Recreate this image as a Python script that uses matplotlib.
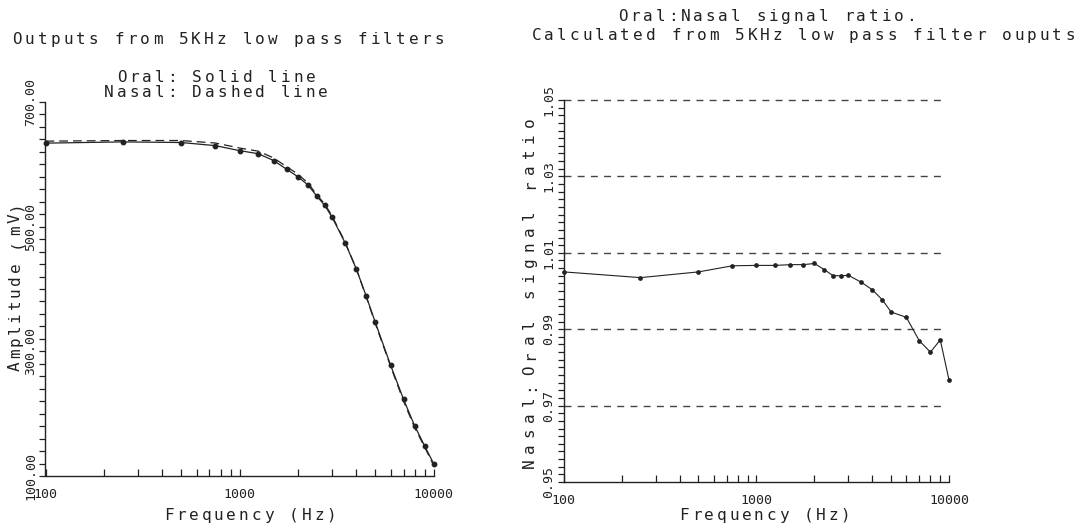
import numpy as np
import matplotlib
matplotlib.use("Agg")
import matplotlib.pyplot as plt
from matplotlib.ticker import LogLocator, MultipleLocator, NullFormatter

W, H = 1089, 526
FONT = "DejaVu Sans Mono"
INK = "#222222"
plt.rcParams["font.family"] = [FONT, "DejaVu Sans"]

# Filter test frequencies (Hz)
freq_hz = [100, 250, 500, 750, 1000, 1250, 1500, 1750, 2000, 2250, 2500,
           2750, 3000, 3500, 4000, 4500, 5000, 6000, 7000, 8000, 9000, 10000]

# Low pass filter outputs (mV)
oral_mv = [634, 636, 635, 630, 622, 617, 606, 592, 580, 567, 549,
           534, 515, 474, 432, 388, 347, 278, 223, 180, 148, 120]
nasal_mv = [637.2, 638.2, 638.2, 634.2, 626.2, 621.1, 610.2, 596.1, 584.2, 570.2, 551.2,
            536.1, 517.1, 475.1, 432.1, 387.1, 345.1, 276.1, 220.1, 177.1, 146.1, 117.2]

# Nasal:oral signal ratio
nasal_oral_ratio = [1.0050, 1.0035, 1.0050, 1.0066, 1.0067, 1.0067, 1.0069, 1.0069,
                    1.0072, 1.0056, 1.0040, 1.0040, 1.0041, 1.0023, 1.0003, 0.9977,
                    0.9945, 0.9931, 0.9870, 0.9840, 0.9872, 0.9766]

freq_ticks = [100, 1000, 10000]
freq_tick_labels = ["100", "1000", "10000"]
amp_ticks = [100, 300, 500, 700]
amp_tick_labels = ["100.00", "300.00", "500.00", "700.00"]
ratio_ticks = [0.95, 0.97, 0.99, 1.01, 1.03, 1.05]
ratio_tick_labels = ["0.95", "0.97", "0.99", "1.01", "1.03", "1.05"]
ratio_grid = [0.97, 0.99, 1.01, 1.03, 1.05]

fig = plt.figure(figsize=(W / 100, H / 100), dpi=100)
fig.patch.set_facecolor("white")


def px_axes(x0, x1, y_top, y_bot):
    """Axes placed by pixel edges (origin at top-left of the figure)."""
    return fig.add_axes([x0 / W, 1 - y_bot / H, (x1 - x0) / W, (y_bot - y_top) / H])


def pitched_text(s, x, y, pitch, size=11.5, vertical=False):
    """Plotter-style lettering: characters laid out on a fixed pitch.
    (x, y) is the centre of the string in pixels, origin at top-left."""
    n = len(s)
    cap = 0.73 * size * 100 / 72
    for i, ch in enumerate(s):
        if ch == " ":
            continue
        off = (i - (n - 1) / 2) * pitch
        if vertical:
            px, py = x + cap / 2, y - off
            rot = 90
        else:
            px, py = x + off, y + cap / 2
            rot = 0
        fig.text(px / W, 1 - py / H, ch, rotation=rot, rotation_mode="anchor",
                 ha="center", va="baseline", fontsize=size, family=FONT, color=INK)


def style_axes(ax):
    ax.set_facecolor("none")
    ax.set_xscale("log")
    ax.set_xlim(100, 10000)
    for side in ("top", "right"):
        ax.spines[side].set_visible(False)
    for side in ("left", "bottom"):
        ax.spines[side].set_linewidth(1.0)
        ax.spines[side].set_color(INK)
    ax.set_xticks(freq_ticks, freq_tick_labels)
    ax.xaxis.set_minor_locator(LogLocator(base=10, subs=np.arange(2, 10)))
    ax.xaxis.set_minor_formatter(NullFormatter())
    ax.tick_params(axis="x", which="both", direction="in", length=5, width=0.9,
                   color=INK, pad=9, labelsize=9.5, labelcolor=INK)
    ax.tick_params(axis="y", which="both", direction="out", length=4, width=0.9,
                   color=INK, pad=2, labelsize=9.5, labelcolor=INK)


# ---- Left panel: filter outputs ----
ax1 = px_axes(45.5, 433.6, 102, 476)
style_axes(ax1)
ax1.set_ylim(100, 700)
ax1.set_yticks(amp_ticks, amp_tick_labels, rotation=90, va="center")
ax1.yaxis.set_minor_locator(MultipleLocator(20))
ax1.plot(freq_hz, nasal_mv, color=INK, lw=0.9, dashes=(7, 4), clip_on=False)
ax1.plot(freq_hz, oral_mv, color=INK, lw=0.9, ls="-",
         marker="o", ms=3.2, mfc=INK, mec=INK, clip_on=False)

# ---- Right panel: nasal:oral ratio ----
ax2 = px_axes(563.8, 949.1, 100, 482)
style_axes(ax2)
ax2.set_ylim(0.95, 1.05)
ax2.set_yticks(ratio_ticks, ratio_tick_labels, rotation=90, va="center")
ax2.yaxis.set_minor_locator(MultipleLocator(0.002))
ax2.hlines(ratio_grid, 100, 9200, colors="#444444", lw=1.0,
           linestyles=(0, (5, 4.5)), clip_on=False)
ax2.plot(freq_hz, nasal_oral_ratio, color=INK, lw=0.8, ls="-",
         marker="o", ms=2.4, mfc=INK, mec=INK, clip_on=False)

# ---- Lettering ----
pitched_text("Outputs from 5KHz low pass filters", 228, 38, 12.8)
pitched_text("Oral: Solid line", 216, 76, 12.6)
pitched_text("Nasal: Dashed line", 216, 91, 12.6)
pitched_text("Frequency (Hz)", 250, 514, 12.5)
pitched_text("Amplitude (mV)", 14, 286, 12.3, vertical=True)

pitched_text("Oral:Nasal signal ratio.", 767, 15.5, 12.55)
pitched_text("Calculated from 5KHz low pass filter ouputs", 803, 34, 12.7)
pitched_text("Frequency (Hz)", 765, 514, 12.4)
pitched_text("Nasal:Oral signal ratio", 528, 293, 15.5, vertical=True)

fig.savefig("out.png", dpi=100, facecolor="white")
